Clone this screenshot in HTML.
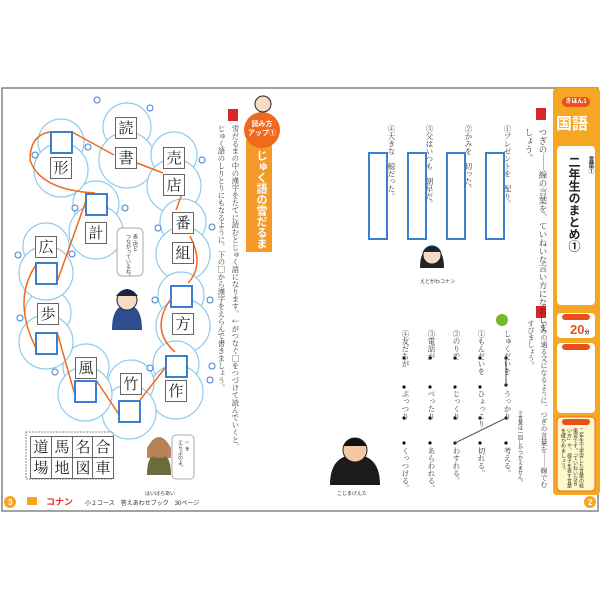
<!DOCTYPE html>
<html><head><meta charset="utf-8"><style>
body{margin:0;width:600px;height:600px;background:#fff;position:relative;overflow:hidden;font-family:"Liberation Sans","Noto Sans CJK JP",sans-serif;}
.v{position:absolute;writing-mode:vertical-rl;white-space:nowrap;color:#333;}
.k{position:absolute;width:20px;height:20px;border:1.5px solid #666;background:#fff;font-family:"Noto Serif CJK SC","Noto Sans CJK JP",serif;font-size:15px;line-height:20px;text-align:center;color:#222;}
.b{position:absolute;width:19px;height:19px;border:2.5px solid #3a7fd0;background:#fff;}
.a{position:absolute;width:16px;height:84px;border:2px solid #3a7fd0;background:#fff;}
.t{font-family:"Noto Serif CJK SC","Noto Sans CJK JP",serif;}
</style></head><body>
<svg width="600" height="600" style="position:absolute;left:0;top:0">
<rect x="2" y="88" width="596" height="423" fill="#fff" stroke="#666" stroke-width="1.2"/>
<g fill="#fff" stroke="#8ccbee" stroke-width="1.2">
<circle cx="127" cy="127" r="24"/><circle cx="127" cy="160" r="28"/>
<circle cx="174" cy="155" r="23"/><circle cx="174" cy="186" r="27"/>
<circle cx="183" cy="222" r="23"/><circle cx="183" cy="254" r="27"/>
<circle cx="181" cy="295" r="23"/><circle cx="183" cy="326" r="27"/>
<circle cx="176" cy="364" r="23"/><circle cx="176" cy="392" r="27"/>
<circle cx="131" cy="383" r="23"/><circle cx="129" cy="412" r="27"/>
<circle cx="86" cy="367" r="23"/><circle cx="85" cy="394" r="27"/>
<circle cx="48" cy="313" r="23"/><circle cx="46" cy="342" r="27"/>
<circle cx="46" cy="246" r="23"/><circle cx="46" cy="273" r="27"/>
<circle cx="96" cy="204" r="23"/><circle cx="96" cy="232" r="27"/>
<circle cx="61" cy="142" r="23"/><circle cx="61" cy="170" r="27"/>
</g>
<g fill="none" stroke="#f06a1e" stroke-width="1.5">
<path d="M72 132 L114 155"/><path d="M137 163 L163 173"/><path d="M182 194 L176 210"/>
<path d="M190 236 Q205 265 188 283"/><path d="M170 300 Q150 330 175 352"/>
<path d="M165 368 L140 400"/><path d="M120 416 L96 380"/><path d="M75 395 L57 332"/>
<path d="M38 352 Q10 300 38 262"/><path d="M57 282 L88 195"/><path d="M95 193 Q40 190 30 160 Q30 135 50 132"/>
</g>
<g fill="#fff" stroke="#3a7fd0" stroke-width="1">
<circle cx="97" cy="100" r="3"/><circle cx="150" cy="108" r="3"/><circle cx="202" cy="160" r="3"/><circle cx="35" cy="155" r="3"/><circle cx="88" cy="147" r="3"/>
<circle cx="212" cy="227" r="3"/><circle cx="158" cy="228" r="3"/><circle cx="210" cy="300" r="3"/><circle cx="155" cy="300" r="3"/>
<circle cx="212" cy="366" r="3"/><circle cx="150" cy="368" r="3"/><circle cx="55" cy="372" r="3"/><circle cx="20" cy="318" r="3"/><circle cx="18" cy="255" r="3"/><circle cx="72" cy="254" r="3"/><circle cx="75" cy="208" r="3"/><circle cx="125" cy="208" r="3"/><circle cx="210" cy="380" r="3"/>
</g>
<rect x="26" y="432" width="87" height="47" fill="#fff" stroke="#888" stroke-dasharray="2 1"/>
<path d="M112 330 q0-25 15-25 q15 0 15 25 z" fill="#2d4d8e"/><circle cx="127" cy="300" r="10" fill="#f6dcc2" stroke="#222"/><path d="M116 296 q11-14 22 0" fill="#1b2440"/>
<rect x="117" y="228" width="26" height="48" rx="5" fill="#fff" stroke="#aaa"/>
<path d="M147 475 q0-22 12-22 q12 0 12 22 z" fill="#6b6b3e"/><circle cx="159" cy="448" r="10" fill="#f6dcc2"/><path d="M147 448 q12-22 24 0 v10 h-24z" fill="#a66a3a" opacity=".8"/>
<rect x="172" y="435" width="22" height="44" rx="4" fill="#fff" stroke="#aaa"/>
<path d="M330 485 q0-30 25-30 q25 0 25 30 z" fill="#1d1a1a"/><circle cx="355" cy="450" r="12" fill="#f2c9a0" stroke="#222"/><path d="M343 446 q12-16 24 0" fill="#111"/>
<path d="M420 268 q0-20 12-20 q12 0 12 20 z" fill="#222"/><circle cx="432" cy="255" r="9" fill="#f6dcc2" stroke="#222"/><path d="M423 252 q9-12 18 0" fill="#1b2440"/>
<rect x="246" y="140" width="26" height="112" fill="#f39a2b"/>
<circle cx="262" cy="130" r="18" fill="#f06a1e"/>
<circle cx="263" cy="104" r="8" fill="#f6dcc2" stroke="#222"/>
<rect x="228" y="109" width="10" height="12" fill="#d8262a"/>
<rect x="553" y="88" width="47" height="407" rx="4" fill="#f5a623"/>
<rect x="557" y="146" width="38" height="159" rx="4" fill="#fff"/>
<rect x="557" y="313" width="38" height="25" rx="4" fill="#fff"/>
<rect x="557" y="343" width="38" height="70" rx="4" fill="#fff"/>
<rect x="557" y="417" width="38" height="74" rx="4" fill="#fff8c8" stroke="#f06a1e"/>
<rect x="562" y="97" width="28" height="10" rx="5" fill="#e8501e"/>
<rect x="562" y="314" width="28" height="6" rx="3" fill="#e8501e"/>
<rect x="562" y="344" width="28" height="6" rx="3" fill="#e8501e"/>
<rect x="562" y="419" width="28" height="6" rx="3" fill="#e8501e"/>
<rect x="536" y="108" width="10" height="12" fill="#d8262a"/>
<rect x="536" y="306" width="10" height="12" fill="#d8262a"/>
<circle cx="502" cy="320" r="6" fill="#7bb52b"/>
<g fill="#111"><circle cx="506" cy="358" r="1.6"/><circle cx="506" cy="385" r="1.6"/><circle cx="506" cy="418" r="1.6"/><circle cx="506" cy="443" r="1.6"/>
<circle cx="480" cy="358" r="1.6"/><circle cx="480" cy="387" r="1.6"/><circle cx="480" cy="418" r="1.6"/><circle cx="480" cy="443" r="1.6"/>
<circle cx="455" cy="358" r="1.6"/><circle cx="455" cy="387" r="1.6"/><circle cx="455" cy="418" r="1.6"/><circle cx="455" cy="443" r="1.6"/>
<circle cx="430" cy="358" r="1.6"/><circle cx="430" cy="387" r="1.6"/><circle cx="430" cy="418" r="1.6"/><circle cx="430" cy="443" r="1.6"/>
<circle cx="404" cy="358" r="1.6"/><circle cx="404" cy="387" r="1.6"/><circle cx="404" cy="418" r="1.6"/><circle cx="404" cy="443" r="1.6"/></g>
<path d="M506 358 L506 385 M506 418 L455 443" stroke="#555" stroke-width="1"/>
<circle cx="10" cy="502" r="6" fill="#f5a623"/><circle cx="590" cy="502" r="6" fill="#f5a623"/>
<rect x="27" y="497" width="10" height="8" fill="#f5a623"/>
<text x="46" y="505" font-size="9" fill="#e8301e" font-weight="bold">コナン</text>
<text x="8" y="505" font-size="8" fill="#fff" font-weight="bold">3</text><text x="588" y="505" font-size="8" fill="#fff" font-weight="bold">2</text>
<text x="85" y="505" font-size="6" fill="#333">小２コース　答えあわせブック　30ページ</text>
</svg>
<div class="k" style="left:115px;top:117px">読</div><div class="k" style="left:115px;top:147px">書</div>
<div class="k" style="left:163px;top:147px">売</div><div class="k" style="left:163px;top:174px">店</div>
<div class="k" style="left:172px;top:212px">番</div><div class="k" style="left:172px;top:242px">組</div>
<div class="b" style="left:170px;top:285px"></div><div class="k" style="left:172px;top:313px">方</div>
<div class="b" style="left:165px;top:355px"></div><div class="k" style="left:165px;top:380px">作</div>
<div class="k" style="left:120px;top:373px">竹</div><div class="b" style="left:118px;top:400px"></div>
<div class="k" style="left:75px;top:357px">風</div><div class="b" style="left:74px;top:380px"></div>
<div class="k" style="left:37px;top:303px">歩</div><div class="b" style="left:35px;top:332px"></div>
<div class="k" style="left:35px;top:236px">広</div><div class="b" style="left:35px;top:262px"></div>
<div class="b" style="left:85px;top:193px"></div><div class="k" style="left:85px;top:222px">計</div>
<div class="b" style="left:50px;top:131px"></div><div class="k" style="left:50px;top:157px">形</div>
<div class="k" style="left:30px;top:436px">道</div><div class="k" style="left:51px;top:436px">馬</div><div class="k" style="left:72px;top:436px">名</div><div class="k" style="left:92px;top:436px">合</div>
<div class="k" style="left:30px;top:457px">場</div><div class="k" style="left:51px;top:457px">地</div><div class="k" style="left:72px;top:457px">図</div><div class="k" style="left:92px;top:457px">車</div>
<div class="v" style="left:125px;top:234px;font-size:5px">表↓店と<br>つながっているね。</div>
<div class="v" style="left:177px;top:440px;font-size:5px">□を<br>えらぶのよ。</div>
<div class="v" style="left:253px;top:150px;font-size:11px;font-weight:bold;color:#fff">じゅく語の雪だるま</div>
<div style="position:absolute;left:248px;top:120px;font-size:7px;color:#fff;font-weight:bold;line-height:9px;text-align:center;width:28px">読み方<br>アップ①</div>
<div class="v t" style="left:214px;top:125px;font-size:7.4px;line-height:14px">雪だるまの中の漢字をたてに読むとじゅく語になります。↓がつなぐ□をつづけて読んでいくと、<br>じゅく語のしりとりにもなるように、下の□から漢字をえらんで書きましょう。</div>
<div style="position:absolute;left:145px;top:490px;font-size:5px;color:#333">はいばらあい</div>
<div style="position:absolute;left:337px;top:490px;font-size:5px;color:#333">こじまげんた</div>
<div style="position:absolute;left:420px;top:278px;font-size:5px;color:#333">えどがわコナン</div>
<div style="position:absolute;left:562px;top:97px;width:28px;font-size:6px;color:#fff;text-align:center;line-height:10px;font-weight:bold">きほん1</div>
<div style="position:absolute;left:556px;top:110px;font-size:16px;color:#fff;font-weight:bold">国語</div>
<div class="v" style="left:566px;top:156px;font-size:12px;font-weight:bold;color:#222;line-height:16px"><span style="font-size:6px">言葉①</span><br>二年生のまとめ①</div>
<div style="position:absolute;left:570px;top:322px;font-size:13px;color:#e8501e;font-weight:bold">20<span style="font-size:5px;color:#333">分</span></div>
<div class="v" style="left:560px;top:428px;font-size:5px;line-height:6px;height:60px;white-space:normal">二年生で学習した言葉の総復習です。「ていねいな言い方」や、様子を表す言葉を確かめましょう。</div>
<div class="v t" style="left:522px;top:128px;font-size:8.5px;line-height:14px">つぎの――線の言葉を、ていねいな言い方になおしま<br>しょう。</div>
<div class="v t" style="left:502px;top:125px;font-size:7.5px">①プレゼントを　配り。</div>
<div class="v t" style="left:463px;top:125px;font-size:7.5px">②かみを　切った。</div>
<div class="v t" style="left:424px;top:125px;font-size:7.5px">③父はいつも　朝早だ。</div>
<div class="v t" style="left:386px;top:125px;font-size:7.5px">④大きな　鯨だった。</div>
<div class="a" style="left:485px;top:152px"></div><div class="a" style="left:446px;top:152px"></div><div class="a" style="left:407px;top:152px"></div><div class="a" style="left:368px;top:152px"></div>
<div class="v t" style="left:524px;top:320px;font-size:7px;line-height:13px">いみの通る文になるように、つぎの言葉を――線でむ<br>すびましょう。</div>
<div class="v" style="left:517px;top:410px;font-size:5px">※言葉は一回しかつかえません。</div>
<div class="v t" style="left:502px;top:330px;font-size:7.5px">しゅくだいを</div>
<div class="v t" style="left:476px;top:330px;font-size:7.5px">①もんだいを</div>
<div class="v t" style="left:451px;top:330px;font-size:7.5px">②のりで</div>
<div class="v t" style="left:426px;top:330px;font-size:7.5px">③電話が</div>
<div class="v t" style="left:400px;top:330px;font-size:7.5px">④友だちが</div>
<div class="v t" style="left:502px;top:390px;font-size:7.5px">うっかり</div>
<div class="v t" style="left:476px;top:390px;font-size:7.5px">ひょっこり</div>
<div class="v t" style="left:451px;top:390px;font-size:7.5px">じっくり</div>
<div class="v t" style="left:426px;top:390px;font-size:7.5px">べったり</div>
<div class="v t" style="left:400px;top:390px;font-size:7.5px">ぷっつり</div>
<div class="v t" style="left:502px;top:447px;font-size:7.5px">考える。</div>
<div class="v t" style="left:476px;top:447px;font-size:7.5px">切れる。</div>
<div class="v t" style="left:451px;top:447px;font-size:7.5px">わすれる。</div>
<div class="v t" style="left:426px;top:447px;font-size:7.5px">あらわれる。</div>
<div class="v t" style="left:400px;top:447px;font-size:7.5px">くっつける。</div>
</body></html>
